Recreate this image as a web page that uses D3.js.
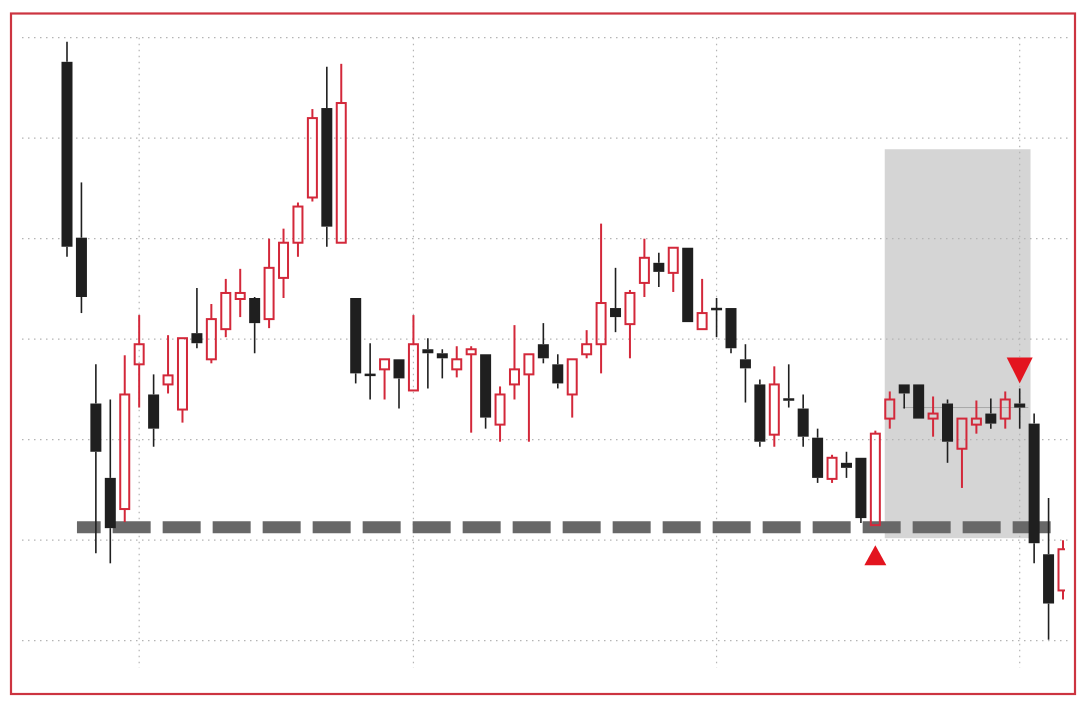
<!DOCTYPE html>
<html>
<head>
<meta charset="utf-8">
<script src="https://cdn.jsdelivr.net/npm/d3@7/dist/d3.min.js"></script>
<style>
  html, body { margin: 0; padding: 0; background: #ffffff; }
  svg { display: block; }
</style>
</head>
<body>
<svg id="chart" width="1086" height="705"></svg>
<script>
// ---- Data ----
const sessions = d3.range(70);
const opens  = [157.6,140.1,123.6,116.2,113.1,127.5,124.5,125.5,123.0,130.6,
                128.0,131.0,134.0,134.1,132.0,136.1,139.6,144.1,153.0,139.6,
                134.1,126.5,127.0,128.0,124.9,129.0,128.6,127.0,128.5,128.5,
                121.5,125.5,126.5,129.5,127.5,124.5,128.5,129.5,133.1,131.5,
                135.6,137.6,136.6,139.1,131.0,133.1,133.1,128.0,125.5,120.5,
                124.1,123.1,120.2,116.1,117.7,118.2,111.5,122.1,125.5,125.5,
                122.1,123.6,119.1,121.5,122.6,122.1,123.6,121.6,108.6,105.0];
const highs  = [159.6,145.6,127.5,124.0,128.4,132.4,126.5,130.4,130.1,135.1,
                133.5,136.0,137.0,134.2,140.0,141.0,143.6,152.9,157.1,157.4,
                134.1,129.6,128.0,128.0,132.4,130.1,129.0,129.3,129.3,128.5,
                125.3,131.4,128.5,131.6,128.5,128.0,130.9,141.5,137.1,134.9,
                140.0,138.6,139.1,139.1,136.0,134.1,133.1,129.5,126.0,127.3,
                127.5,124.5,121.1,118.5,118.8,118.2,120.9,124.8,125.5,125.5,
                124.3,124.0,122.1,123.9,124.1,124.8,125.1,122.6,114.2,110.0];
const lows   = [138.2,132.6,108.7,107.7,111.8,123.2,119.3,124.6,121.7,129.1,
                127.6,130.2,132.2,128.6,131.1,134.1,138.2,143.7,139.2,139.6,
                125.6,124.0,124.0,123.1,124.9,125.1,126.1,126.2,120.7,121.1,
                119.8,124.0,119.8,127.6,125.1,122.2,128.1,126.6,130.7,128.1,
                134.2,135.2,134.7,131.7,131.0,130.2,128.6,123.7,119.3,119.3,
                123.2,119.3,115.7,115.7,116.2,111.7,111.5,121.1,123.1,122.1,
                120.3,117.7,115.2,120.6,121.1,121.1,121.1,107.7,100.1,104.1];
const closes = [139.2,134.2,118.8,111.2,124.5,129.5,121.1,126.4,130.1,129.6,
                132.0,134.6,134.6,131.6,137.1,139.6,143.2,152.0,141.2,153.5,
                126.6,126.4,128.0,126.1,129.5,128.6,128.1,128.0,129.0,122.2,
                124.5,127.0,128.5,128.1,125.6,128.0,129.5,133.6,132.2,134.6,
                138.1,136.7,139.1,131.7,132.6,132.9,129.1,127.1,119.8,125.5,
                123.9,120.3,116.2,118.2,117.2,112.2,120.6,124.0,124.6,122.1,
                122.6,119.8,122.1,122.1,121.6,124.0,123.2,109.7,103.7,109.1];

const priceTicks = [100, 110, 120, 130, 140, 150, 160];
const sessionTicks = [5, 24, 45, 66];

const supportLevel = 111.3;          // dashed horizontal level
const supportSpan = [0.69, 68.2];    // in session units
const zoneSpan = [56.65, 66.75];     // shaded consolidation box (sessions)
const zonePrice = [110.2, 148.9];    // shaded box price range
const rangeLevel = 123.2;            // faint line inside the box
const rangeSpan = [57.9, 66.6];
const signals = [{index: 56, type: "buy"}, {index: 66, type: "sell"}];

// ---- Layout ----
const W = 1086, H = 705;
const svg = d3.select("#chart");
const RED = "#d3283a", BLACK = "#1f1f1f";

const x = d3.scaleLinear().domain([0, sessions.length - 1]).range([67, 1063]);
const y = d3.scaleLinear().domain([100, 160]).range([640.7, 37.7]);

svg.append("rect").attr("width", W).attr("height", H).attr("fill", "#fff");

const defs = svg.append("defs");
defs.append("clipPath").attr("id", "plotClip")
  .append("rect").attr("x", 18).attr("y", 15).attr("width", 1047).attr("height", 675);

// shaded zone
svg.append("rect")
  .attr("x", x(zoneSpan[0])).attr("width", x(zoneSpan[1]) - x(zoneSpan[0]))
  .attr("y", y(zonePrice[1])).attr("height", y(zonePrice[0]) - y(zonePrice[1]))
  .attr("fill", "#d5d5d5");

// grid
const grid = svg.append("g").attr("stroke", "#b4b4b4").attr("stroke-width", 1.2)
  .attr("stroke-dasharray", "1.5,4.5");
grid.selectAll("line.h").data(priceTicks).join("line").attr("class", "h")
  .attr("x1", 22).attr("x2", 1070)
  .attr("y1", d => y(d)).attr("y2", d => y(d));
grid.selectAll("line.v").data(sessionTicks).join("line").attr("class", "v")
  .attr("x1", d => x(d)).attr("x2", d => x(d))
  .attr("y1", y(160)).attr("y2", 668);

// faint range line
svg.append("line")
  .attr("x1", x(rangeSpan[0])).attr("x2", x(rangeSpan[1]))
  .attr("y1", y(rangeLevel)).attr("y2", y(rangeLevel))
  .attr("stroke", "#a8a8a8").attr("stroke-width", 1);

// dashed support level
svg.append("line")
  .attr("x1", x(supportSpan[0])).attr("x2", x(supportSpan[1]))
  .attr("y1", y(supportLevel)).attr("y2", y(supportLevel))
  .attr("stroke", "#686868").attr("stroke-width", 12)
  .attr("stroke-dasharray", "38,12").attr("stroke-dashoffset", 14.3);

// candles
const data = sessions.map(i => ({i, o: opens[i], h: highs[i], l: lows[i], c: closes[i]}));
const bodyW = 11;
const cg = svg.append("g").attr("clip-path", "url(#plotClip)");
const candle = cg.selectAll("g.candle").data(data).join("g").attr("class", "candle");

candle.each(function(d) {
  const g = d3.select(this);
  const up = d.c >= d.o;
  const cx = x(d.i);
  const top = y(Math.max(d.o, d.c));
  const bot = y(Math.min(d.o, d.c));
  const col = up ? RED : BLACK;
  const ww = up ? 2 : 1.6;
  if (y(d.h) < top - 0.3)
    g.append("line").attr("x1", cx).attr("x2", cx).attr("y1", y(d.h)).attr("y2", top)
      .attr("stroke", col).attr("stroke-width", ww);
  if (y(d.l) > bot + 0.3)
    g.append("line").attr("x1", cx).attr("x2", cx).attr("y1", bot).attr("y2", y(d.l))
      .attr("stroke", col).attr("stroke-width", ww);
  const hgt = Math.max(bot - top, 2.5);
  const t = (bot - top < 2.5) ? (top + bot) / 2 - 1.25 : top;
  if (up) {
    g.append("rect").attr("x", cx - bodyW / 2 + 1).attr("width", bodyW - 2)
      .attr("y", t).attr("height", hgt)
      .attr("fill", "none").attr("stroke", RED).attr("stroke-width", 2);
  } else {
    g.append("rect").attr("x", cx - bodyW / 2).attr("width", bodyW)
      .attr("y", t).attr("height", hgt).attr("fill", BLACK);
  }
});

// signal triangles
signals.forEach(s => {
  const cx = x(s.index);
  if (s.type === "buy") {
    const tip = y(lows[s.index]) + 20;
    svg.append("path")
      .attr("d", `M${cx},${tip} L${cx + 11},${tip + 20} L${cx - 11},${tip + 20} Z`)
      .attr("fill", "#e3141f");
  } else {
    const tip = y(highs[s.index]) - 5;
    svg.append("path")
      .attr("d", `M${cx},${tip} L${cx + 13},${tip - 26} L${cx - 13},${tip - 26} Z`)
      .attr("fill", "#e3141f");
  }
});

// frame
svg.append("rect").attr("x", 11).attr("y", 13.5).attr("width", 1064).attr("height", 680.5)
  .attr("fill", "none").attr("stroke", "#cc3440").attr("stroke-width", 2.2);
</script>
</body>
</html>
